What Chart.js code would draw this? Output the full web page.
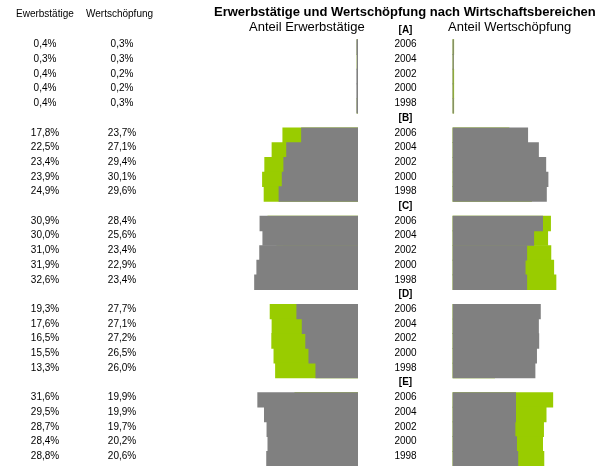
<!DOCTYPE html>
<html><head><meta charset="utf-8">
<script src="https://cdn.jsdelivr.net/npm/chart.js@4.4.0/dist/chart.umd.min.js"></script>
<style>
html,body{margin:0;padding:0;background:#fff;}
body{width:598px;height:466px;position:relative;overflow:hidden;font-family:"Liberation Sans",Arial,sans-serif;color:#000;}
.t{position:absolute;white-space:nowrap;line-height:1;}
#cL{position:absolute;left:0;top:0;}
#cR{position:absolute;left:358px;top:0;}
</style></head><body>
<canvas id="cL" width="358" height="466"></canvas>
<canvas id="cR" width="240" height="466"></canvas>
<div class="t" style="left:214px;top:5px;font-size:13px;font-weight:bold;">Erwerbstätige und Wertschöpfung nach Wirtschaftsbereichen</div>
<div class="t" style="left:249px;top:20px;font-size:13px;">Anteil Erwerbstätige</div>
<div class="t" style="left:448px;top:20px;font-size:13px;">Anteil Wertschöpfung</div>
<div class="t" style="left:16px;top:9px;font-size:10px;">Ewerbstätige</div>
<div class="t" style="left:86px;top:9px;font-size:10px;">Wertschöpfung</div>
<script>
// ---- data ----
const sectors = ['A', 'B', 'C', 'D', 'E'];
const years = ['2006', '2004', '2002', '2000', '1998'];
// Anteil Erwerbstätige (%) per sector, years 2006..1998
const erwA = [0.4, 0.3, 0.4, 0.4, 0.4];
const erwB = [17.8, 22.5, 23.4, 23.9, 24.9];
const erwC = [30.9, 30.0, 31.0, 31.9, 32.6];
const erwD = [19.3, 17.6, 16.5, 15.5, 13.3];
const erwE = [31.6, 29.5, 28.7, 28.4, 28.8];
// Anteil Wertschöpfung (%) per sector, years 2006..1998
const wsA = [0.3, 0.3, 0.2, 0.2, 0.3];
const wsB = [23.7, 27.1, 29.4, 30.1, 29.6];
const wsC = [28.4, 25.6, 23.4, 22.9, 23.4];
const wsD = [27.7, 27.1, 27.2, 26.5, 26.0];
const wsE = [19.9, 19.9, 19.7, 20.2, 20.6];

const erwBySector = [erwA, erwB, erwC, erwD, erwE];
const wsBySector = [wsA, wsB, wsC, wsD, wsE];

// build rows: header + 5 years per sector
const rowLabels = [];
const erwRows = [];
const wsRows = [];
sectors.forEach((s, i) => {
  rowLabels.push('[' + s + ']'); erwRows.push(null); wsRows.push(null);
  years.forEach((y, j) => {
    rowLabels.push(y);
    erwRows.push(erwBySector[i][j]);
    wsRows.push(wsBySector[i][j]);
  });
});

const GRAY = '#808080';
const GREEN = '#99CC00';
const FONT = '"Liberation Sans", Arial, sans-serif';
const LABEL_SHIFT = -2.5;

function fmt(v) { return v.toFixed(1).replace('.', ',') + '%'; }

const barBase = { grouped: false, barPercentage: 1, categoryPercentage: 1, borderWidth: 0 };

const columnsPlugin = {
  id: 'columns',
  afterDraw(chart) {
    const ctx = chart.ctx;
    const y = chart.scales.y;
    ctx.save();
    ctx.font = '10px ' + FONT;
    ctx.fillStyle = '#000';
    ctx.textAlign = 'center';
    ctx.textBaseline = 'middle';
    rowLabels.forEach((lab, i) => {
      if (erwRows[i] === null) return;
      const py = y.getPixelForValue(i) + LABEL_SHIFT;
      ctx.fillText(fmt(erwRows[i]), 45, py);
      ctx.fillText(fmt(wsRows[i]), 122, py);
    });
    ctx.restore();
  }
};

const rowLabelPlugin = {
  id: 'rowLabels',
  afterDraw(chart) {
    const ctx = chart.ctx;
    const y = chart.scales.y;
    ctx.save();
    ctx.fillStyle = '#000';
    ctx.textAlign = 'center';
    ctx.textBaseline = 'middle';
    rowLabels.forEach((lab, i) => {
      const hdr = lab.charAt(0) === '[';
      ctx.font = (hdr ? 'bold ' : '') + '10px ' + FONT;
      ctx.fillText(lab, 47.5, y.getPixelForValue(i) + LABEL_SHIFT);
    });
    ctx.restore();
  }
};

Chart.defaults.font.family = FONT;

new Chart(document.getElementById('cL'), {
  type: 'bar',
  data: {
    labels: rowLabels,
    datasets: [
      Object.assign({ data: erwRows, backgroundColor: GRAY }, barBase),
      Object.assign({ data: wsRows, backgroundColor: GREEN }, barBase)
    ]
  },
  options: {
    indexAxis: 'y', responsive: false, animation: false, events: [],
    layout: { padding: { left: 231, right: 0, top: 25, bottom: 0 } },
    plugins: { legend: { display: false }, tooltip: { enabled: false } },
    scales: {
      x: { display: false, reverse: true, min: 0, max: 40 },
      y: { display: false }
    }
  },
  plugins: [columnsPlugin]
});

new Chart(document.getElementById('cR'), {
  type: 'bar',
  data: {
    labels: rowLabels,
    datasets: [
      Object.assign({ data: wsRows, backgroundColor: GRAY }, barBase),
      Object.assign({ data: erwRows, backgroundColor: GREEN }, barBase)
    ]
  },
  options: {
    indexAxis: 'y', responsive: false, animation: false, events: [],
    layout: { padding: { left: 94.5, right: 18.5, top: 25, bottom: 0 } },
    plugins: { legend: { display: false }, tooltip: { enabled: false } },
    scales: {
      x: { display: false, min: 0, max: 40 },
      y: { display: false }
    }
  },
  plugins: [rowLabelPlugin]
});
</script>
</body></html>
